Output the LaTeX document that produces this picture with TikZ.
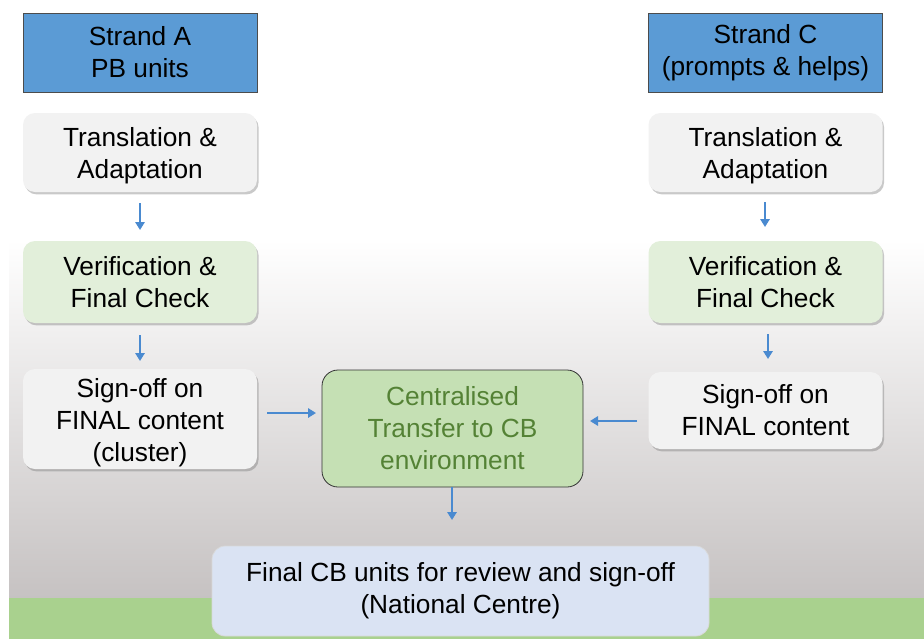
\documentclass[tikz,border=0pt]{standalone}
\usepackage{fontspec}
\setmainfont{Liberation Sans}
\usetikzlibrary{shadows,arrows.meta}
\definecolor{strandblue}{HTML}{5B9BD5}
\definecolor{greybox}{HTML}{F2F2F2}
\definecolor{greenbox}{HTML}{E2EFDA}
\definecolor{centralgreen}{HTML}{C5E0B4}
\definecolor{centraltext}{HTML}{548235}
\definecolor{finalblue}{HTML}{DAE3F3}
\definecolor{bottomgreen}{HTML}{A9D18E}
\definecolor{bggrey}{HTML}{C6C2C2}
\definecolor{arrowblue}{HTML}{4A8AD0}
\tikzset{
  px/.style={x=0.75pt,y=-0.75pt},
  txt/.style={font=\fontsize{19.7}{24}\selectfont, align=center, inner sep=0pt},
  strandbox/.style={txt, draw=black!70, line width=0.6pt, fill=strandblue, minimum width=175.5pt, minimum height=59.25pt},
  stepbox/.style={txt, fill=#1, rounded corners=9pt, minimum width=175.5pt,
     drop shadow={shadow xshift=1.2pt, shadow yshift=-1.8pt, opacity=0.35, fill=black!60}},
  flow/.style={draw=arrowblue, line width=1.5pt, -{Triangle[length=6pt,width=7pt]}},
}
\begin{document}
\begin{tikzpicture}[px]
\useasboundingbox (0,0) rectangle (924,639);
% background
\fill[white] (0,0) rectangle (924,639);
\shade[top color=white, bottom color=bggrey] (9,240) rectangle (924,598);
\fill[bottomgreen] (9,598) rectangle (924,639);
% left strand
\node[strandbox] (sa) at (140,52.5) {Strand A\\PB units};
\node[stepbox=greybox, minimum height=59.25pt] (ta) at (140,152.5) {};
\node[txt] (tat) at ([yshift=-2.25pt]ta.center) {Translation \&\\Adaptation};
\node[stepbox=greenbox, minimum height=61.5pt] (va) at (140,282) {Verification \&\\Final Check};
\node[stepbox=greybox, minimum height=75pt] (sga) at (140,419) {};
\node[txt] (sgat) at ([yshift=-3pt]sga.center) {Sign-off on\\FINAL content\\(cluster)};
% right strand
\node[strandbox] (sc) at (765.5,52.5) {Strand C\\(prompts \& helps)};
\node[stepbox=greybox, minimum height=59.25pt] (tc) at (765.5,152.5) {};
\node[txt] (tct) at ([yshift=-2.25pt]tc.center) {Translation \&\\Adaptation};
\node[stepbox=greenbox, minimum height=61.5pt] (vc) at (765.5,282) {Verification \&\\Final Check};
\node[stepbox=greybox, minimum height=57.75pt] (sgc) at (765.5,410.5) {Sign-off on\\FINAL content};
% central
\node[txt, text=centraltext, fill=centralgreen, draw=black!80, line width=0.6pt, rounded corners=12pt,
      minimum width=195.75pt, minimum height=87.75pt] (ct) at (452.5,428.5) {Centralised\\Transfer to CB\\environment};
% final
\node[txt, fill=finalblue, draw=white!85!black, line width=0.6pt, rounded corners=10pt,
      minimum width=372.75pt, minimum height=67.5pt] (fin) at (460.5,591) {Final CB units for review and sign-off\\(National Centre)};
% arrows
\coordinate (a1s) at (140,203); \coordinate (a1e) at (140,230);
\draw[flow] (a1s) -- (a1e);
\coordinate (a2s) at (140,335); \coordinate (a2e) at (140,361);
\draw[flow] (a2s) -- (a2e);
\coordinate (c1s) at (765,202); \coordinate (c1e) at (765,227);
\draw[flow] (c1s) -- (c1e);
\coordinate (c2s) at (768,334); \coordinate (c2e) at (768,359);
\draw[flow] (c2s) -- (c2e);
\coordinate (la) at (267,413); \coordinate (lb) at (316,413);
\draw[flow] (la) -- (lb);
\coordinate (ra) at (637,421); \coordinate (rb) at (590,421);
\draw[flow] (ra) -- (rb);
\coordinate (da) at (452,487); \coordinate (db) at (452,520);
\draw[flow] (da) -- (db);
\end{tikzpicture}
\end{document}
